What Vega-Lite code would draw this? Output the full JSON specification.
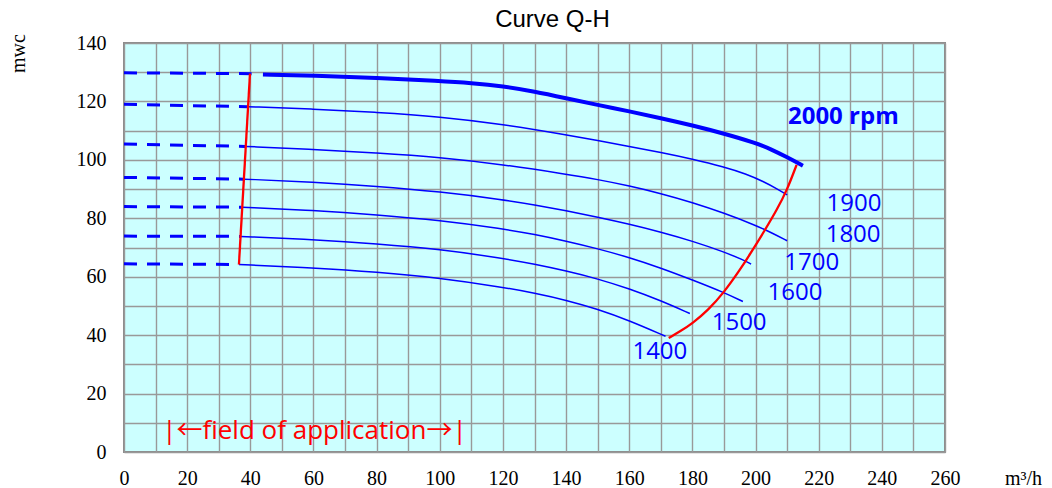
{
  "$schema": "https://vega.github.io/schema/vega-lite/v6.json",
  "width": 821,
  "height": 409,
  "autosize": {"type": "none"},
  "padding": {"left": 124, "top": 43, "right": 107, "bottom": 36},
  "background": "white",
  "title": {
    "text": "Curve Q-H",
    "font": "Liberation Sans",
    "fontSize": 24,
    "fontWeight": "normal",
    "color": "black",
    "anchor": "middle",
    "dx": 18,
    "baseline": "alphabetic",
    "offset": -18
  },
  "config": {
    "view": {"fill": "#ccffff", "stroke": "#8c8c8c", "strokeWidth": 2},
    "axis": {
      "grid": true,
      "gridColor": "#999999",
      "gridWidth": 1.4,
      "ticks": false,
      "domain": false,
      "labelFont": "Liberation Serif",
      "labelFontSize": 20,
      "labelColor": "black",
      "labelFlush": false,
      "labelOverlap": false,
      "labelBound": false,
      "titleFont": "Liberation Serif",
      "titleFontSize": 20,
      "titleFontWeight": "normal",
      "titleColor": "black"
    }
  },
  "datasets": {
    "curves": [
      {"rpm": "2000", "range": "extrapolated", "Q": 0, "H": 129.8},
      {"rpm": "2000", "range": "extrapolated", "Q": 40.4, "H": 129.5},
      {"rpm": "1900", "range": "extrapolated", "Q": 0, "H": 119.0},
      {"rpm": "1900", "range": "extrapolated", "Q": 39, "H": 118.2},
      {"rpm": "1800", "range": "extrapolated", "Q": 0, "H": 105.4},
      {"rpm": "1800", "range": "extrapolated", "Q": 38.4, "H": 104.6},
      {"rpm": "1700", "range": "extrapolated", "Q": 0, "H": 94.0},
      {"rpm": "1700", "range": "extrapolated", "Q": 37.8, "H": 93.4},
      {"rpm": "1600", "range": "extrapolated", "Q": 0, "H": 84.0},
      {"rpm": "1600", "range": "extrapolated", "Q": 37.2, "H": 83.8},
      {"rpm": "1500", "range": "extrapolated", "Q": 0, "H": 73.9},
      {"rpm": "1500", "range": "extrapolated", "Q": 36.7, "H": 73.8},
      {"rpm": "1400", "range": "extrapolated", "Q": 0, "H": 64.4},
      {"rpm": "1400", "range": "extrapolated", "Q": 36.2, "H": 64.2},

      {"rpm": "2000", "range": "operating", "Q": 44, "H": 129.2},
      {"rpm": "2000", "range": "operating", "Q": 60, "H": 128.9},
      {"rpm": "2000", "range": "operating", "Q": 80, "H": 128.1},
      {"rpm": "2000", "range": "operating", "Q": 100, "H": 127.0},
      {"rpm": "2000", "range": "operating", "Q": 110, "H": 126.3},
      {"rpm": "2000", "range": "operating", "Q": 120, "H": 125.2},
      {"rpm": "2000", "range": "operating", "Q": 130, "H": 123.4},
      {"rpm": "2000", "range": "operating", "Q": 140, "H": 121.1},
      {"rpm": "2000", "range": "operating", "Q": 150, "H": 118.8},
      {"rpm": "2000", "range": "operating", "Q": 160, "H": 116.6},
      {"rpm": "2000", "range": "operating", "Q": 170, "H": 114.3},
      {"rpm": "2000", "range": "operating", "Q": 180, "H": 111.8},
      {"rpm": "2000", "range": "operating", "Q": 190, "H": 109.0},
      {"rpm": "2000", "range": "operating", "Q": 200, "H": 105.8},
      {"rpm": "2000", "range": "operating", "Q": 205, "H": 103.6},
      {"rpm": "2000", "range": "operating", "Q": 210, "H": 100.9},
      {"rpm": "2000", "range": "operating", "Q": 215, "H": 98.0},

      {"rpm": "1900", "range": "operating", "Q": 39.3, "H": 118.2},
      {"rpm": "1900", "range": "operating", "Q": 60, "H": 117.4},
      {"rpm": "1900", "range": "operating", "Q": 80, "H": 116.3},
      {"rpm": "1900", "range": "operating", "Q": 100, "H": 114.8},
      {"rpm": "1900", "range": "operating", "Q": 120, "H": 112.2},
      {"rpm": "1900", "range": "operating", "Q": 140, "H": 108.6},
      {"rpm": "1900", "range": "operating", "Q": 150, "H": 106.6},
      {"rpm": "1900", "range": "operating", "Q": 160, "H": 104.6},
      {"rpm": "1900", "range": "operating", "Q": 170, "H": 102.6},
      {"rpm": "1900", "range": "operating", "Q": 180, "H": 100.3},
      {"rpm": "1900", "range": "operating", "Q": 190, "H": 97.6},
      {"rpm": "1900", "range": "operating", "Q": 197, "H": 95.2},
      {"rpm": "1900", "range": "operating", "Q": 202.5, "H": 92.6},
      {"rpm": "1900", "range": "operating", "Q": 207, "H": 90.0},
      {"rpm": "1900", "range": "operating", "Q": 210, "H": 88.0},

      {"rpm": "1800", "range": "operating", "Q": 38.6, "H": 104.6},
      {"rpm": "1800", "range": "operating", "Q": 60, "H": 103.6},
      {"rpm": "1800", "range": "operating", "Q": 80, "H": 102.4},
      {"rpm": "1800", "range": "operating", "Q": 100, "H": 100.9},
      {"rpm": "1800", "range": "operating", "Q": 120, "H": 98.4},
      {"rpm": "1800", "range": "operating", "Q": 140, "H": 95.1},
      {"rpm": "1800", "range": "operating", "Q": 150, "H": 93.3},
      {"rpm": "1800", "range": "operating", "Q": 160, "H": 91.1},
      {"rpm": "1800", "range": "operating", "Q": 170, "H": 88.5},
      {"rpm": "1800", "range": "operating", "Q": 180, "H": 85.4},
      {"rpm": "1800", "range": "operating", "Q": 190, "H": 81.8},
      {"rpm": "1800", "range": "operating", "Q": 200, "H": 77.6},
      {"rpm": "1800", "range": "operating", "Q": 205, "H": 75.1},
      {"rpm": "1800", "range": "operating", "Q": 210, "H": 72.3},

      {"rpm": "1700", "range": "operating", "Q": 38, "H": 93.4},
      {"rpm": "1700", "range": "operating", "Q": 60, "H": 92.4},
      {"rpm": "1700", "range": "operating", "Q": 80, "H": 91.0},
      {"rpm": "1700", "range": "operating", "Q": 100, "H": 89.1},
      {"rpm": "1700", "range": "operating", "Q": 120, "H": 86.4},
      {"rpm": "1700", "range": "operating", "Q": 130, "H": 84.6},
      {"rpm": "1700", "range": "operating", "Q": 140, "H": 82.6},
      {"rpm": "1700", "range": "operating", "Q": 150, "H": 80.4},
      {"rpm": "1700", "range": "operating", "Q": 160, "H": 78.0},
      {"rpm": "1700", "range": "operating", "Q": 170, "H": 75.3},
      {"rpm": "1700", "range": "operating", "Q": 180, "H": 72.2},
      {"rpm": "1700", "range": "operating", "Q": 190, "H": 68.5},
      {"rpm": "1700", "range": "operating", "Q": 196, "H": 65.8},
      {"rpm": "1700", "range": "operating", "Q": 198.6, "H": 64.3},

      {"rpm": "1600", "range": "operating", "Q": 37.5, "H": 83.8},
      {"rpm": "1600", "range": "operating", "Q": 60, "H": 82.7},
      {"rpm": "1600", "range": "operating", "Q": 80, "H": 81.2},
      {"rpm": "1600", "range": "operating", "Q": 100, "H": 79.3},
      {"rpm": "1600", "range": "operating", "Q": 120, "H": 76.4},
      {"rpm": "1600", "range": "operating", "Q": 130, "H": 74.5},
      {"rpm": "1600", "range": "operating", "Q": 140, "H": 72.2},
      {"rpm": "1600", "range": "operating", "Q": 150, "H": 69.6},
      {"rpm": "1600", "range": "operating", "Q": 160, "H": 66.6},
      {"rpm": "1600", "range": "operating", "Q": 170, "H": 63.0},
      {"rpm": "1600", "range": "operating", "Q": 180, "H": 58.9},
      {"rpm": "1600", "range": "operating", "Q": 190, "H": 54.6},
      {"rpm": "1600", "range": "operating", "Q": 196, "H": 51.5},

      {"rpm": "1500", "range": "operating", "Q": 36.9, "H": 73.8},
      {"rpm": "1500", "range": "operating", "Q": 60, "H": 72.7},
      {"rpm": "1500", "range": "operating", "Q": 80, "H": 71.3},
      {"rpm": "1500", "range": "operating", "Q": 100, "H": 69.4},
      {"rpm": "1500", "range": "operating", "Q": 120, "H": 66.3},
      {"rpm": "1500", "range": "operating", "Q": 130, "H": 64.3},
      {"rpm": "1500", "range": "operating", "Q": 140, "H": 62.0},
      {"rpm": "1500", "range": "operating", "Q": 150, "H": 59.3},
      {"rpm": "1500", "range": "operating", "Q": 160, "H": 55.9},
      {"rpm": "1500", "range": "operating", "Q": 170, "H": 51.8},
      {"rpm": "1500", "range": "operating", "Q": 179.2, "H": 47.4},

      {"rpm": "1400", "range": "operating", "Q": 36.4, "H": 64.2},
      {"rpm": "1400", "range": "operating", "Q": 60, "H": 63.0},
      {"rpm": "1400", "range": "operating", "Q": 80, "H": 61.6},
      {"rpm": "1400", "range": "operating", "Q": 100, "H": 59.6},
      {"rpm": "1400", "range": "operating", "Q": 120, "H": 56.4},
      {"rpm": "1400", "range": "operating", "Q": 130, "H": 54.4},
      {"rpm": "1400", "range": "operating", "Q": 140, "H": 52.0},
      {"rpm": "1400", "range": "operating", "Q": 150, "H": 48.9},
      {"rpm": "1400", "range": "operating", "Q": 160, "H": 45.0},
      {"rpm": "1400", "range": "operating", "Q": 171.5, "H": 39.6}
    ],
    "limits": [
      {"side": "min flow", "Q": 36.4, "H": 64.2},
      {"side": "min flow", "Q": 39.9, "H": 129.5},
      {"side": "max flow", "Q": 172.5, "H": 39.0},
      {"side": "max flow", "Q": 176, "H": 41.2},
      {"side": "max flow", "Q": 180, "H": 44.0},
      {"side": "max flow", "Q": 185, "H": 48.6},
      {"side": "max flow", "Q": 190, "H": 54.6},
      {"side": "max flow", "Q": 195.1, "H": 62.4},
      {"side": "max flow", "Q": 198.2, "H": 67.6},
      {"side": "max flow", "Q": 203, "H": 76.0},
      {"side": "max flow", "Q": 206.7, "H": 82.8},
      {"side": "max flow", "Q": 210, "H": 89.7},
      {"side": "max flow", "Q": 213, "H": 98.3}
    ],
    "labels": [
      {"label": "2000 rpm", "Q": 227.8, "H": 114.6},
      {"label": "1900", "Q": 231.2, "H": 84.8},
      {"label": "1800", "Q": 230.9, "H": 74.3},
      {"label": "1700", "Q": 217.8, "H": 64.6},
      {"label": "1600", "Q": 212.5, "H": 54.5},
      {"label": "1500", "Q": 194.8, "H": 44.3},
      {"label": "1400", "Q": 169.7, "H": 34.3}
    ],
    "note": [
      {"label": "|←field of application→|", "Q": 60.3, "H": 7.2}
    ]
  },
  "encoding": {
    "x": {
      "field": "Q",
      "type": "quantitative",
      "scale": {"domain": [0, 260], "nice": false, "zero": false},
      "axis": {
        "values": [0, 10, 20, 30, 40, 50, 60, 70, 80, 90, 100, 110, 120, 130, 140, 150, 160, 170, 180, 190, 200, 210, 220, 230, 240, 250, 260],
        "labelExpr": "datum.value % 20 === 0 ? datum.label : ''",
        "labelPadding": 16,
        "title": "m³/h",
        "titleX": 899,
        "titleY": 26,
        "titleAlign": "center",
        "titleBaseline": "middle"
      }
    },
    "y": {
      "field": "H",
      "type": "quantitative",
      "scale": {"domain": [0, 140], "nice": false, "zero": false},
      "axis": {
        "values": [0, 10, 20, 30, 40, 50, 60, 70, 80, 90, 100, 110, 120, 130, 140],
        "labelExpr": "datum.value % 20 === 0 ? datum.label : ''",
        "labelPadding": 18,
        "title": "mwc",
        "titleAngle": 270,
        "titleX": -106,
        "titleY": 10,
        "titleAlign": "center",
        "titleBaseline": "middle"
      }
    }
  },
  "layer": [
    {
      "data": {"name": "curves"},
      "transform": [{"filter": "datum.range === 'extrapolated'"}],
      "mark": {"type": "line", "color": "#0000ff", "strokeWidth": 3, "strokeDash": [13, 10]},
      "encoding": {"detail": {"field": "rpm"}, "order": {"field": "Q", "type": "quantitative"}}
    },
    {
      "data": {"name": "curves"},
      "transform": [{"filter": "datum.range === 'operating' && datum.rpm !== '2000'"}],
      "mark": {"type": "line", "color": "#0000ff", "strokeWidth": 1.5, "interpolate": "basis"},
      "encoding": {"detail": {"field": "rpm"}, "order": {"field": "Q", "type": "quantitative"}}
    },
    {
      "data": {"name": "curves"},
      "transform": [{"filter": "datum.range === 'operating' && datum.rpm === '2000'"}],
      "mark": {"type": "line", "color": "#0000ff", "strokeWidth": 4, "interpolate": "basis"},
      "encoding": {"order": {"field": "Q", "type": "quantitative"}}
    },
    {
      "data": {"name": "limits"},
      "mark": {"type": "line", "color": "#ff0000", "strokeWidth": 2.3, "interpolate": "basis"},
      "encoding": {"detail": {"field": "side"}, "order": {"field": "Q", "type": "quantitative"}}
    },
    {
      "data": {"name": "labels"},
      "transform": [{"filter": "datum.label !== '2000 rpm'"}],
      "mark": {"type": "text", "color": "#0000ff", "font": "Open Sans", "fontSize": 24, "align": "center", "baseline": "middle"},
      "encoding": {"text": {"field": "label"}}
    },
    {
      "data": {"name": "labels"},
      "transform": [{"filter": "datum.label === '2000 rpm'"}],
      "mark": {"type": "text", "color": "#0000ff", "font": "Open Sans", "fontSize": 24, "fontWeight": "bold", "align": "center", "baseline": "middle"},
      "encoding": {"text": {"field": "label"}}
    },
    {
      "data": {"name": "note"},
      "mark": {"type": "text", "color": "#ff0000", "font": "Open Sans, Noto Sans CJK JP", "fontSize": 26, "align": "center", "baseline": "middle"},
      "encoding": {"text": {"field": "label"}}
    }
  ]
}
